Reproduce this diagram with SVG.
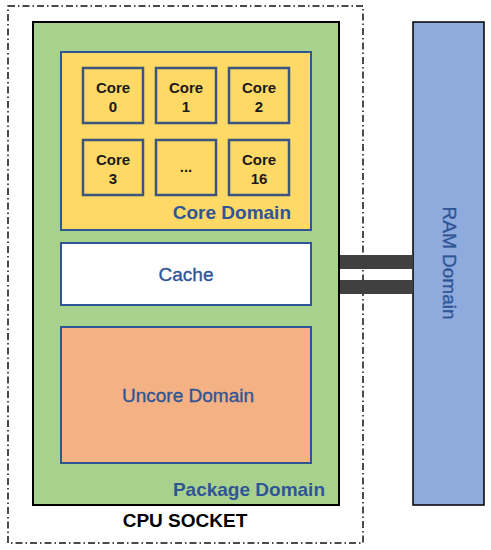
<svg xmlns="http://www.w3.org/2000/svg" width="491" height="550" viewBox="0 0 491 550">
<style>
.core rect{fill:#FFD966;stroke:#3B5580;stroke-width:2.5}
.core text{font-family:"Liberation Sans",Arial,sans-serif;font-weight:bold;font-size:15px;fill:#1a1a1a;text-anchor:middle}
.lbl{font-family:"Liberation Sans",Arial,sans-serif;font-size:19px;fill:#2F5597;text-anchor:middle;stroke:#2F5597;stroke-width:0.35}
.blbl{font-family:"Liberation Sans",Arial,sans-serif;font-weight:bold;font-size:19px;fill:#2F5597;text-anchor:end}
</style>
<rect width="491" height="550" fill="#ffffff"/>
<g id="socket">
<rect x="8" y="6" width="355" height="537" fill="none" stroke="#111" stroke-width="1.5" stroke-dasharray="7,3,1.5,3"/>
<text x="185" y="527" font-family="'Liberation Sans',Arial,sans-serif" font-weight="bold" font-size="19" fill="#000" text-anchor="middle">CPU SOCKET</text>
</g>
<g id="package">
<rect x="33" y="22" width="306" height="483" fill="#A9D18E" stroke="#000" stroke-width="2"/>
<text class="blbl" x="325" y="496" font-size="20">Package Domain</text>
</g>
<g id="coredomain">
<rect x="61" y="52" width="250" height="178" fill="#FFD966" stroke="#2F5597" stroke-width="2"/>
<text class="blbl" x="291" y="219">Core Domain</text>
</g>
<g id="core0" class="core"><rect x="83" y="68" width="60" height="55"/><text x="113" y="93">Core</text><text x="113" y="112">0</text></g>
<g id="core1" class="core"><rect x="156" y="68" width="60" height="55"/><text x="186" y="93">Core</text><text x="186" y="112">1</text></g>
<g id="core2" class="core"><rect x="229" y="68" width="60" height="55"/><text x="259" y="93">Core</text><text x="259" y="112">2</text></g>
<g id="core3" class="core"><rect x="83" y="140" width="60" height="55"/><text x="113" y="165">Core</text><text x="113" y="184">3</text></g>
<g id="coredots" class="core"><rect x="156" y="140" width="60" height="55"/><text x="186" y="172">...</text></g>
<g id="core16" class="core"><rect x="229" y="140" width="60" height="55"/><text x="259" y="165">Core</text><text x="259" y="184">16</text></g>
<g id="cache">
<rect x="61" y="243" width="250" height="62" fill="#ffffff" stroke="#2F5597" stroke-width="2"/>
<text class="lbl" x="186" y="281">Cache</text>
</g>
<g id="uncore">
<rect x="61" y="327" width="250" height="136" fill="#F4B183" stroke="#2F5597" stroke-width="2"/>
<text class="lbl" x="188" y="402">Uncore Domain</text>
</g>
<g id="ram">
<rect x="413" y="22" width="71" height="483" fill="#8FAADC" stroke="#000" stroke-width="1.5"/>
<text class="lbl" x="0" y="0" transform="translate(443,263) rotate(90)">RAM Domain</text>
</g>
<g id="connectors">
<rect x="340" y="255" width="72" height="14" fill="#404040"/>
<rect x="340" y="280" width="72" height="14" fill="#404040"/>
</g>
</svg>
